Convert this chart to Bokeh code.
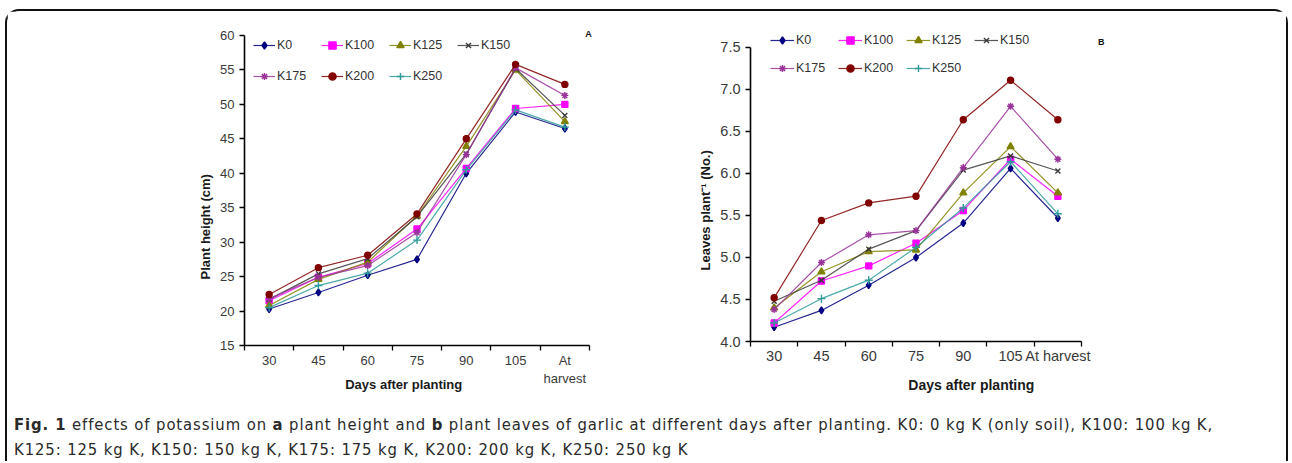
from bokeh.plotting import figure
from bokeh.layouts import row, column
from bokeh.models import (FixedTicker, Legend, LegendItem, Label, Div, Range1d,
                          PrintfTickFormatter, Title)
from bokeh.embed import file_html
from bokeh.resources import INLINE

days = ["30", "45", "60", "75", "90", "105", "At harvest"]
treatments = ["K0", "K100", "K125", "K150", "K175", "K200", "K250"]

# Plant height (cm)
height_K0 = [20.3, 22.7, 25.2, 27.5, 40.0, 48.9, 46.5]
height_K100 = [21.5, 24.9, 26.9, 31.9, 40.7, 49.4, 50.0]
height_K125 = [20.8, 24.6, 27.1, 33.8, 43.9, 55.0, 47.5]
height_K150 = [21.7, 25.4, 27.6, 33.7, 42.8, 55.2, 48.4]
height_K175 = [21.8, 24.9, 26.6, 31.4, 42.7, 55.3, 51.3]
height_K200 = [22.4, 26.3, 28.1, 34.1, 45.0, 55.8, 52.9]
height_K250 = [20.5, 23.7, 25.5, 30.3, 40.5, 49.2, 46.7]

# Leaves plant-1 (No.)
leaves_K0 = [4.17, 4.37, 4.67, 5.00, 5.41, 6.06, 5.47]
leaves_K100 = [4.22, 4.72, 4.90, 5.17, 5.56, 6.17, 5.73]
leaves_K125 = [4.40, 4.83, 5.07, 5.09, 5.77, 6.32, 5.77]
leaves_K150 = [4.48, 4.73, 5.10, 5.32, 6.04, 6.21, 6.03]
leaves_K175 = [4.38, 4.94, 5.27, 5.32, 6.07, 6.80, 6.17]
leaves_K200 = [4.52, 5.44, 5.65, 5.73, 6.64, 7.11, 6.64]
leaves_K250 = [4.22, 4.51, 4.73, 5.12, 5.59, 6.14, 5.52]

heights = [height_K0, height_K100, height_K125, height_K150, height_K175, height_K200, height_K250]
leaves = [leaves_K0, leaves_K100, leaves_K125, leaves_K150, leaves_K175, leaves_K200, leaves_K250]

colors = ["#000080", "#FF00FF", "#808000", "#3a3a3a", "#993399", "#800000", "#2E9A9A"]
markers = ["diamond", "square", "triangle", "x", "asterisk", "circle", "cross"]
msizes = [7, 6, 7, 7, 7, 6, 8]

FONT = "Liberation Sans"
NB = "\u00a0"
xpos = [i + 0.5 for i in range(len(days))]


def make_fig(series, yr, ybounds, ystep, fmt, xr_end, min_left, frame_w, min_right,
             min_top, frame_h, min_bottom, tick_font, title_font, ytitle_font, xlabels,
             xtitle, ytitle, xlab_standoff, x_standoff, ytitle_offset, legend_loc,
             leg_glyph_w, leg_spacing, leg_label_w, letter, letter_xy):
    p = figure(title=None, frame_width=frame_w, frame_height=frame_h,
               min_border_left=min_left, min_border_right=min_right,
               min_border_top=min_top, min_border_bottom=min_bottom,
               x_range=Range1d(0, xr_end), y_range=Range1d(*yr),
               output_backend="svg", toolbar_location=None, tools="")
    p.outline_line_color = None
    p.xgrid.visible = False
    p.ygrid.visible = False
    p.background_fill_color = "white"
    p.border_fill_color = "white"

    xa = p.xaxis[0]
    xa.bounds = (0, len(days))
    xa.ticker = FixedTicker(ticks=xpos, minor_ticks=list(range(len(days) + 1)))
    xa.major_label_overrides = {x: lab for x, lab in zip(xpos, xlabels)}
    xa.major_tick_line_color = None
    xa.major_tick_out = 4
    xa.major_tick_in = 0
    xa.minor_tick_line_color = "black"
    xa.minor_tick_line_width = 1.3
    xa.minor_tick_out = 5
    xa.minor_tick_in = 0
    xa.axis_line_color = "black"
    xa.axis_line_width = 1.6
    xa.major_label_text_font = FONT
    xa.major_label_text_font_size = tick_font
    xa.major_label_text_color = "#3a3a3a"
    xa.major_label_standoff = xlab_standoff
    xa.axis_label = xtitle
    xa.axis_label_text_font = FONT
    xa.axis_label_text_font_style = "bold"
    xa.axis_label_text_font_size = title_font
    xa.axis_label_text_color = "#1a1a1a"
    xa.axis_label_standoff = x_standoff

    ya = p.yaxis[0]
    ya.bounds = ybounds
    n = int(round((ybounds[1] - ybounds[0]) / ystep))
    ya.ticker = FixedTicker(ticks=[ybounds[0] + i * ystep for i in range(n + 1)],
                            minor_ticks=[])
    ya.formatter = PrintfTickFormatter(format=fmt)
    ya.major_tick_out = 5
    ya.major_tick_in = 0
    ya.major_tick_line_width = 1.3
    ya.major_tick_line_color = "black"
    ya.minor_tick_line_color = None
    ya.axis_line_color = "black"
    ya.axis_line_width = 1.6
    ya.major_label_text_font = FONT
    ya.major_label_text_font_size = tick_font
    ya.major_label_text_color = "#3a3a3a"
    ya.major_label_standoff = 5

    p.add_layout(Title(text=ytitle, align="left", offset=ytitle_offset, standoff=10,
                       text_font=FONT, text_font_style="bold",
                       text_font_size=ytitle_font, text_color="#1a1a1a"), "left")

    items = []
    for name, vals, c, m, s in zip(treatments, series, colors, markers, msizes):
        ln = p.line(xpos, vals, line_color=c, line_width=1.2, line_alpha=0.85)
        sc = p.scatter(xpos, vals, marker=m, size=s, fill_color=c, line_color=c,
                       line_width=1.4)
        items.append(LegendItem(label=name, renderers=[ln, sc]))

    leg = Legend(items=items, location=legend_loc, orientation="horizontal", ncols=4,
                 glyph_width=leg_glyph_w, glyph_height=18, label_height=18,
                 label_width=leg_label_w, label_standoff=2, spacing=leg_spacing,
                 padding=0, margin=0, border_line_color=None,
                 background_fill_alpha=0, label_text_font=FONT,
                 label_text_font_size="12.5px", label_text_color="#333333")
    p.add_layout(leg)

    p.add_layout(Label(x=letter_xy[0], y=letter_xy[1], text=letter,
                       text_font=FONT, text_font_style="bold", text_font_size="9px",
                       text_color="#111111", text_align="center",
                       text_baseline="middle"))
    return p


p1 = make_fig(heights, (15, 62.03), (15, 60), 5, "%d", 7.1217,
              237, 351, 85, 10, 324, 47,
              "13px", "13px", "13px",
              ["30", "45", "60", "75", "90", "105", "At\nharvest"],
              "Days after planting" + NB * 9, "Plant height (cm)",
              2, -12, 66, (9, 260), 22, 13, 31, "A", (6.98, 60.15))
p2 = make_fig(leaves, (4.0, 7.8095), (4.0, 7.5), 0.5, "%.1f", 7.613,
              70, 360, 176, 10, 320, 51,
              "14.5px", "14px", "13px",
              ["30", "45", "60", "75", "90", "105", "At harvest"],
              NB * 21 + "Days after planting", "Leaves plant\u207b\u00b9 (No.)",
              1, 10, 71, (20, 264), 24, 10, 32, "B", (7.42, 7.56))

caption = Div(
    text=('<b>Fig. 1</b> effects of potassium on <b>a</b> plant height and <b>b</b> '
          'plant leaves of garlic at different days after planting. K0: 0 kg K '
          '(only soil), K100: 100 kg K,<br>K125: 125 kg K, K150: 150 kg K, '
          'K175: 175 kg K, K200: 200 kg K, K250: 250 kg K'),
    width=1279, height=66, margin=0,
    styles={"font-family": "'Liberation Sans Narrow', 'DejaVu Sans Condensed', sans-serif",
            "font-size": "16.5px", "line-height": "25px", "color": "#2a2a2a",
            "letter-spacing": "0.9px",
            "padding-top": "17px", "padding-left": "7px", "white-space": "nowrap",
            "overflow": "hidden", "box-sizing": "border-box"})

layout = column(row(p1, p2), caption, margin=(9, 0, 0, 5),
                styles={"border-top": "2px solid #111", "border-left": "2px solid #111",
                        "border-right": "2px solid #111",
                        "border-radius": "14px 14px 0 0"})

html = file_html(layout, INLINE, "Figure 1")
open("out.html", "w").write(html)
